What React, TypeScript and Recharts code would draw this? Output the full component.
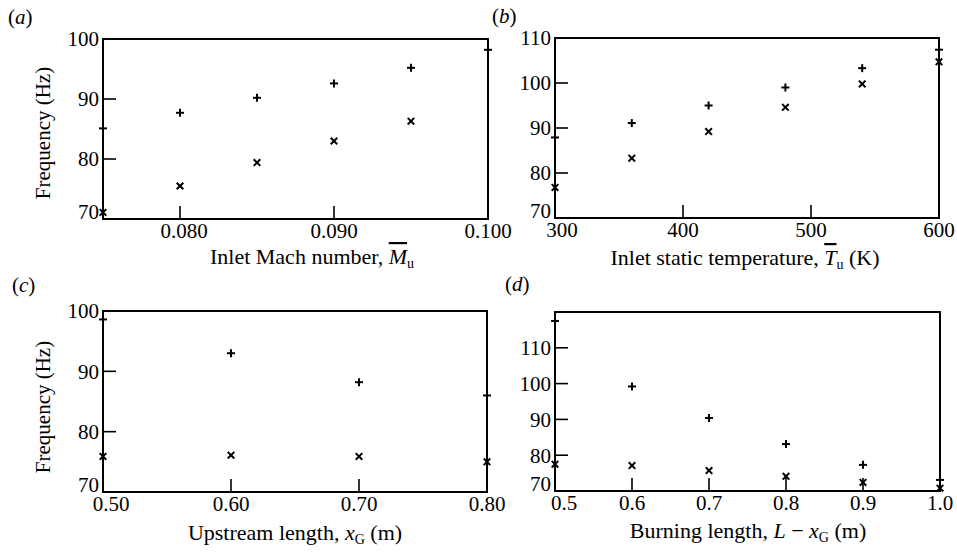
import React from 'react';
import { ScatterChart, Scatter, XAxis, YAxis, ReferenceArea } from 'recharts';

// (a) frequency vs inlet Mach number
const machNumber = [0.075, 0.08, 0.085, 0.09, 0.095, 0.1];
const machPlus = [85.1, 87.7, 90.2, 92.6, 95.2, 98.2];
const machCross = [71.1, 75.5, 79.4, 83.0, 86.3];

// (b) frequency vs inlet static temperature
const tempK = [300, 360, 420, 480, 540, 600];
const tempPlus = [87.9, 91.1, 95.0, 99.0, 103.3, 107.4];
const tempCross = [76.8, 83.3, 89.2, 94.6, 99.8, 104.7];

// (c) frequency vs upstream length
const upstreamLen = [0.5, 0.6, 0.7, 0.8];
const upstreamPlus = [98.6, 93.0, 88.2, 86.0];
const upstreamCross = [75.9, 76.1, 75.9, 75.0];

// (d) frequency vs burning length
const burningLen = [0.5, 0.6, 0.7, 0.8, 0.9, 1.0];
const burningPlus = [117.5, 99.2, 90.4, 83.1, 77.3, 73.1];
const burningCross = [77.5, 77.1, 75.7, 74.1, 72.4, 70.8];

const W = 957;
const H = 552;
const FONT = '"Liberation Serif", "Times New Roman", Times, "DejaVu Serif", serif';

const toRows = (xs: number[], ys: number[]) => ys.map((y, i) => ({ x: xs[i], y }));

const near = (list: number[], v: number) => list.some(t => Math.abs(t - v) < 1e-9);

const PlusMark = (p: any) => (
  <g stroke="#000" strokeWidth={2}>
    <line x1={p.cx - 4} x2={p.cx + 4} y1={p.cy} y2={p.cy} />
    <line x1={p.cx} x2={p.cx} y1={p.cy - 4} y2={p.cy + 4} />
  </g>
);

const CrossMark = (p: any) => (
  <g stroke="#000" strokeWidth={2}>
    <line x1={p.cx - 3.3} x2={p.cx + 3.3} y1={p.cy - 3.3} y2={p.cy + 3.3} />
    <line x1={p.cx - 3.3} x2={p.cx + 3.3} y1={p.cy + 3.3} y2={p.cy - 3.3} />
  </g>
);

const XTick = (props: any) => {
  const { x, y, payload, index, inner, fmt, firstShift } = props;
  return (
    <g>
      {near(inner, payload.value) && (
        <line x1={x} x2={x} y1={y} y2={y - 13} stroke="#000" strokeWidth={1.6} />
      )}
      <text x={x + (index === 0 ? firstShift : 0)} y={y + 19} textAnchor="middle"
        style={{ fontFamily: FONT, fontSize: 21 }} fill="#000">
        {fmt(payload.value)}
      </text>
    </g>
  );
};

const YTick = (props: any) => {
  const { x, y, payload, index, inner } = props;
  // the bottom label sits a little above the corner, as in the print
  const lift = index === 0 ? -7 : 0;
  return (
    <g>
      {near(inner, payload.value) && (
        <line x1={x} x2={x + 13} y1={y} y2={y} stroke="#000" strokeWidth={1.6} />
      )}
      <text x={x - 4} y={y + lift} dy="0.35em" textAnchor="end"
        style={{ fontFamily: FONT, fontSize: 21 }} fill="#000">
        {payload.value}
      </text>
    </g>
  );
};

interface PanelProps {
  box: [number, number, number, number]; // left, top, right, bottom
  xDomain: [number, number];
  yDomain: [number, number];
  xTicks: number[];
  yTicks: number[];
  xInner: number[];
  yInner: number[];
  fmt: (v: number) => string;
  firstShift: number;
  plus: { x: number; y: number }[];
  cross: { x: number; y: number }[];
}

// axes need at least 1px of size or recharts drops their ticks
const Panel: React.FC<PanelProps> = ({ box, xDomain, yDomain, xTicks, yTicks, xInner, yInner, fmt, firstShift, plus, cross }) => (
  <div style={{ position: 'absolute', left: 0, top: 0 }}>
    <ScatterChart width={W} height={H}
      margin={{ left: box[0] - 1, top: box[1], right: W - box[2], bottom: H - box[3] - 1 }}>
      <XAxis type="number" dataKey="x" domain={xDomain} ticks={xTicks} interval={0}
        height={1} tickSize={0} tickMargin={0} axisLine={false} tickLine={false}
        tick={<XTick inner={xInner} fmt={fmt} firstShift={firstShift} />} />
      <YAxis type="number" dataKey="y" domain={yDomain} ticks={yTicks} interval={0}
        width={1} tickSize={0} tickMargin={0} axisLine={false} tickLine={false}
        tick={<YTick inner={yInner} />} />
      <ReferenceArea x1={xDomain[0]} x2={xDomain[1]} y1={yDomain[0]} y2={yDomain[1]}
        fill="none" fillOpacity={0} stroke="#000" strokeWidth={2} ifOverflow="visible" />
      <Scatter data={plus} shape={PlusMark} isAnimationActive={false} />
      <Scatter data={cross} shape={CrossMark} isAnimationActive={false} />
    </ScatterChart>
  </div>
);

const Sub = ({ children }: { children: string }) => (
  <tspan fontSize={14} dy={4} fontStyle="normal">{children}</tspan>
);

export default function App() {
  return (
    <div style={{ position: 'absolute', left: 0, top: 0, width: W, height: H, background: '#fff', fontFamily: FONT }}>
      <Panel box={[103, 39, 488, 219]} xDomain={[0.075, 0.1]} yDomain={[70, 100]}
        xTicks={[0.08, 0.09, 0.1]} yTicks={[70, 80, 90, 100]}
        xInner={[0.08, 0.09]} yInner={[80, 90]} fmt={v => v.toFixed(3)} firstShift={4}
        plus={toRows(machNumber, machPlus)} cross={toRows(machNumber, machCross)} />
      <Panel box={[555, 38, 939, 218]} xDomain={[300, 600]} yDomain={[70, 110]}
        xTicks={[300, 400, 500, 600]} yTicks={[70, 80, 90, 100, 110]}
        xInner={[400, 500]} yInner={[80, 90, 100]} fmt={v => String(v)} firstShift={7}
        plus={toRows(tempK, tempPlus)} cross={toRows(tempK, tempCross)} />
      <Panel box={[103, 311, 487, 492]} xDomain={[0.5, 0.8]} yDomain={[70, 100]}
        xTicks={[0.5, 0.6, 0.7, 0.8]} yTicks={[70, 80, 90, 100]}
        xInner={[0.6, 0.7]} yInner={[80, 90]} fmt={v => v.toFixed(2)} firstShift={8}
        plus={toRows(upstreamLen, upstreamPlus)} cross={toRows(upstreamLen, upstreamCross)} />
      <Panel box={[555, 312, 940, 491]} xDomain={[0.5, 1.0]} yDomain={[70, 120]}
        xTicks={[0.5, 0.6, 0.7, 0.8, 0.9, 1.0]} yTicks={[70, 80, 90, 100, 110]}
        xInner={[0.6, 0.7, 0.8, 0.9]} yInner={[80, 90, 100, 110]} fmt={v => v.toFixed(1)} firstShift={9}
        plus={toRows(burningLen, burningPlus)} cross={toRows(burningLen, burningCross)} />

      <svg width={W} height={H} style={{ position: 'absolute', left: 0, top: 0, pointerEvents: 'none', fontFamily: FONT, fontSize: 22 }}
        fill="#000">
        <text x={8} y={24} fontSize={21}>(<tspan fontStyle="italic">a</tspan>)</text>
        <text x={492} y={23} fontSize={21}>(<tspan fontStyle="italic">b</tspan>)</text>
        <text x={12} y={292} fontSize={21}>(<tspan fontStyle="italic">c</tspan>)</text>
        <text x={505} y={291} fontSize={21}>(<tspan fontStyle="italic">d</tspan>)</text>

        <text transform="translate(50,133) rotate(-90)" textAnchor="middle" fontSize={21}>Frequency (Hz)</text>
        <text transform="translate(50,407) rotate(-90)" textAnchor="middle" fontSize={21}>Frequency (Hz)</text>

        <text x={312} y={264} textAnchor="middle">
          Inlet Mach number, <tspan fontStyle="italic" textDecoration="overline">M</tspan><Sub>u</Sub>
        </text>
        <text x={745} y={265} textAnchor="middle">
          Inlet static temperature, <tspan fontStyle="italic" textDecoration="overline">T</tspan><Sub>u</Sub><tspan dy={-4}> (K)</tspan>
        </text>
        <text x={295} y={540} textAnchor="middle">
          Upstream length, <tspan fontStyle="italic">x</tspan><Sub>G</Sub><tspan dy={-4}> (m)</tspan>
        </text>
        <text x={748} y={538} textAnchor="middle">
          Burning length, <tspan fontStyle="italic">L</tspan> − <tspan fontStyle="italic">x</tspan><Sub>G</Sub><tspan dy={-4}> (m)</tspan>
        </text>
      </svg>
    </div>
  );
}
